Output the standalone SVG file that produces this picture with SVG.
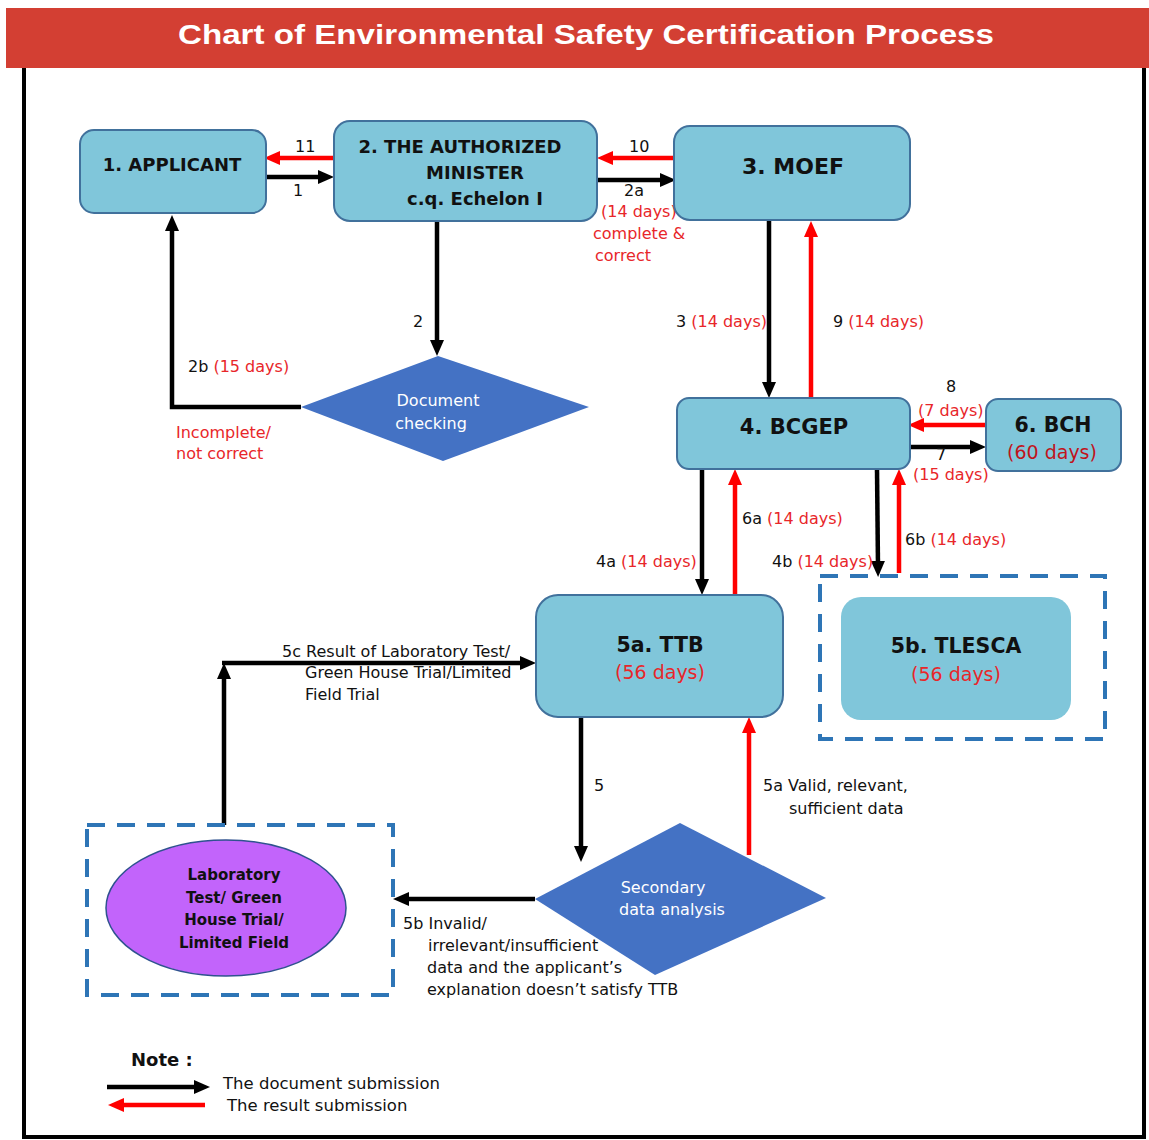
<svg xmlns="http://www.w3.org/2000/svg" width="1149" height="1140" viewBox="0 0 1149 1140">
<defs>
<marker id="ab" viewBox="0 0 16 14" markerWidth="16" markerHeight="14" refX="6" refY="7" orient="auto" markerUnits="userSpaceOnUse"><path d="M0,0 L16,7 L0,14 z" fill="#000"/></marker>
<marker id="ar" viewBox="0 0 16 14" markerWidth="16" markerHeight="14" refX="6" refY="7" orient="auto" markerUnits="userSpaceOnUse"><path d="M0,0 L16,7 L0,14 z" fill="#ff0000"/></marker>
</defs>
<style>
.box{fill:#80c6da;stroke:#41719c;stroke-width:2}
.dia{fill:#4472c4}
.dash{fill:none;stroke:#2e75b6;stroke-width:4;stroke-dasharray:18 12}
.blk{fill:none;stroke:#000;stroke-width:4.5;marker-end:url(#ab)}
.red{fill:none;stroke:#ff0000;stroke-width:4.5;marker-end:url(#ar)}
text{font-family:"DejaVu Sans","Noto Sans",sans-serif}
.h{font-weight:bold;fill:#111;text-anchor:middle}
.t{font-size:16px;fill:#111}
.r{fill:#e8262a}
.dr{fill:#c0141c}
.w{font-size:16px;fill:#fff;text-anchor:middle}
</style>
<rect x="0" y="0" width="1149" height="1140" fill="#fff"/>
<g id="title">
<rect x="6" y="8" width="1143" height="60" fill="#d33f33"/>
<text x="178" y="44" font-weight="bold" font-size="27" fill="#fff" textLength="816" lengthAdjust="spacingAndGlyphs" style="font-family:'Liberation Sans',Arial,sans-serif">Chart of Environmental Safety Certification Process</text>
</g>
<g id="frame" fill="none" stroke="#000" stroke-width="4">
<path d="M24,68 V1137 H1144 V68"/>
</g>
<g id="connectors">
<path class="red" d="M334,158 H274"/>
<path class="blk" d="M266,177 H324"/>
<path class="red" d="M674,158 H607"/>
<path class="blk" d="M597,180 H666"/>
<path class="blk" d="M437,221 V346"/>
<path class="blk" d="M301,407 H172 V225"/>
<path class="blk" d="M769,220 V388"/>
<path class="red" d="M811,398 V231"/>
<path class="red" d="M986,425 H918"/>
<path class="blk" d="M911,447 H976"/>
<path class="blk" d="M702,469 V585"/>
<path class="red" d="M735,595 V479"/>
<path class="blk" d="M877,469 L878,567"/>
<path class="red" d="M899,573 V479"/>
<path class="blk" d="M581,717 V852"/>
<path class="red" d="M749,855 V727"/>
<path class="blk" d="M535,899 H403"/>
<path class="blk" d="M224,825 V673"/>
<path class="blk" d="M222,663 H526"/>
<text class="t" x="295" y="152">11</text>
<text class="t" x="293" y="196">1</text>
<text class="t" x="629" y="152">10</text>
<text class="t" x="624" y="196">2a</text>
<text class="t r" x="601" y="217">(14 days)</text>
<text class="t r" x="593" y="239">complete &amp;</text>
<text class="t r" x="595" y="261">correct</text>
<text class="t" x="413" y="327">2</text>
<text class="t" x="188" y="372">2b <tspan class="r">(15 days)</tspan></text>
<text class="t r" x="176" y="438">Incomplete/</text>
<text class="t r" x="176" y="459">not correct</text>
<text class="t" x="676" y="327">3 <tspan class="r">(14 days)</tspan></text>
<text class="t" x="833" y="327">9 <tspan class="r">(14 days)</tspan></text>
<text class="t" x="946" y="392">8</text>
<text class="t r" x="918" y="416">(7 days)</text>
<text class="t" x="936" y="460">7</text>
<text class="t r" x="913" y="480">(15 days)</text>
<text class="t" x="742" y="524">6a <tspan class="r">(14 days)</tspan></text>
<text class="t" x="905" y="545">6b <tspan class="r">(14 days)</tspan></text>
<text class="t" x="596" y="567">4a <tspan class="r">(14 days)</tspan></text>
<text class="t" x="772" y="567">4b <tspan class="r">(14 days)</tspan></text>
<text class="t" x="282" y="657">5c Result of Laboratory Test/</text>
<text class="t" x="305" y="678">Green House Trial/Limited</text>
<text class="t" x="305" y="700">Field Trial</text>
<text class="t" x="594" y="791">5</text>
<text class="t" x="763" y="791">5a Valid, relevant,</text>
<text class="t" x="789" y="814">sufficient data</text>
<text class="t" x="403" y="929">5b Invalid/</text>
<text class="t" x="428" y="951">irrelevant/insufficient</text>
<text class="t" x="427" y="973">data and the applicant’s</text>
<text class="t" x="427" y="995">explanation doesn’t satisfy TTB</text>
</g>
<g id="n1">
<rect class="box" x="80" y="130" width="186" height="83" rx="14"/>
<text class="h" x="172" y="171" font-size="18">1. APPLICANT</text>
</g>
<g id="n2">
<rect class="box" x="334" y="121" width="263" height="100" rx="16"/>
<text class="h" x="460" y="153" font-size="18">2. THE AUTHORIZED</text>
<text class="h" x="475" y="179" font-size="18">MINISTER</text>
<text class="h" x="475" y="205" font-size="18">c.q. Echelon I</text>
</g>
<g id="n3">
<rect class="box" x="674" y="126" width="236" height="94" rx="16"/>
<text class="h" x="793" y="174" font-size="22">3. MOEF</text>
</g>
<g id="n4">
<rect class="box" x="677" y="398" width="233" height="71" rx="12"/>
<text class="h" x="794" y="434" font-size="21">4. BCGEP</text>
</g>
<g id="n6">
<rect class="box" x="986" y="399" width="135" height="72" rx="12"/>
<text class="h" x="1053" y="432" font-size="20.5">6. BCH</text>
<text x="1052" y="459" font-size="19" class="dr" text-anchor="middle">(60 days)</text>
</g>
<g id="n5a">
<rect class="box" x="536" y="595" width="247" height="122" rx="22"/>
<text class="h" x="660" y="652" font-size="20.5">5a. TTB</text>
<text x="660" y="679" font-size="19" class="r" text-anchor="middle">(56 days)</text>
</g>
<g id="n5b">
<rect class="dash" x="820" y="576" width="285" height="163"/>
<rect x="841" y="597" width="230" height="123" rx="20" fill="#80c6da"/>
<text class="h" x="956" y="653" font-size="20.5">5b. TLESCA</text>
<text x="956" y="681" font-size="19" class="r" text-anchor="middle">(56 days)</text>
</g>
<g id="doccheck">
<polygon class="dia" points="301,407 438,356 589,407 443,461"/>
<text class="w" x="438" y="406">Document</text>
<text class="w" x="431" y="429">checking</text>
</g>
<g id="secondary">
<polygon class="dia" points="535,899 680,823 826,898 655,975"/>
<text class="w" x="663" y="893">Secondary</text>
<text class="w" x="672" y="915">data analysis</text>
</g>
<g id="lab">
<rect class="dash" x="87" y="825" width="306" height="170"/>
<ellipse cx="226" cy="908" rx="120" ry="68" fill="#c264fb" stroke="#2f528f" stroke-width="1.5"/>
<text class="h" x="234" y="880" font-size="15">Laboratory</text>
<text class="h" x="234" y="903" font-size="15">Test/ Green</text>
<text class="h" x="234" y="925" font-size="15">House Trial/</text>
<text class="h" x="234" y="948" font-size="15">Limited Field</text>
</g>
<g id="legend">
<text x="131" y="1066" font-size="18" font-weight="bold" fill="#111">Note :</text>
<path class="blk" d="M107,1087 H200"/>
<path class="red" d="M205,1105 H118"/>
<text x="223" y="1089" font-size="16.5" fill="#111">The document submission</text>
<text x="227" y="1111" font-size="16.5" fill="#111">The result submission</text>
</g>
</svg>
